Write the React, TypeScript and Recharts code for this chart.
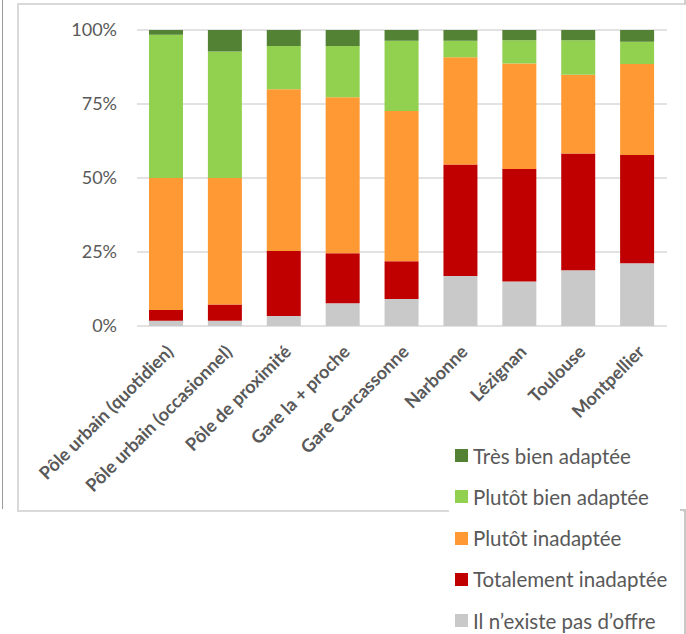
import React from 'react';
import { BarChart, Bar, XAxis, YAxis, CartesianGrid } from 'recharts';

const categories = [
  'Pôle urbain (quotidien)',
  'Pôle urbain (occasionnel)',
  'Pôle de proximité',
  'Gare la + proche',
  'Gare Carcassonne',
  'Narbonne',
  'Lézignan',
  'Toulouse',
  'Montpellier',
];

// shares in %, one value per category
const pasOffre = [1.8, 1.8, 3.4, 7.7, 9.1, 16.9, 15.0, 18.8, 21.2];
const totalementInadaptee = [3.6, 5.5, 21.9, 16.9, 12.8, 37.7, 38.0, 39.5, 36.6];
const plutotInadaptee = [44.6, 42.7, 54.7, 52.7, 50.7, 36.2, 35.7, 26.6, 30.7];
const plutotBienAdaptee = [48.4, 42.7, 14.6, 17.3, 23.8, 5.6, 7.8, 11.6, 7.5];
const tresBienAdaptee = [1.6, 7.3, 5.4, 5.4, 3.6, 3.6, 3.5, 3.5, 4.0];

const yTicks = [0, 0.25, 0.5, 0.75, 1];

// stacked bottom to top
const series = [
  { key: 'pasOffre', name: 'Il n’existe pas d’offre', color: '#C9C9C9', values: pasOffre },
  { key: 'totalement', name: 'Totalement inadaptée', color: '#C00000', values: totalementInadaptee },
  { key: 'plutotInad', name: 'Plutôt inadaptée', color: '#FF9933', values: plutotInadaptee },
  { key: 'plutotBien', name: 'Plutôt bien adaptée', color: '#92D050', values: plutotBienAdaptee },
  { key: 'tresBien', name: 'Très bien adaptée', color: '#548235', values: tresBienAdaptee },
];

const data = categories.map((name, i) => {
  const row: Record<string, string | number> = { name };
  series.forEach(s => { row[s.key] = s.values[i]; });
  return row;
});

const FONT = 'Lato, "Liberation Sans", sans-serif';
const TEXT = '#595959';

const CategoryTick = ({ x, y, payload }: any) => (
  <g transform={`translate(${x + 8},${y + 27})`}>
    <text
      textAnchor="end"
      transform="rotate(-45)"
      fill={TEXT}
      fontSize={18}
      fontWeight="bold"
      fontFamily={FONT}
    >
      {payload.value}
    </text>
  </g>
);

const App: React.FC = () => (
  <div style={{ position: 'absolute', left: 0, top: 0, width: 686, height: 634, background: '#fff', fontFamily: FONT }}>
    {/* outer frame lines */}
    <div style={{ position: 'absolute', left: 2, top: 0, width: 1, height: 509, background: '#9a9a9a' }} />
    <div
      style={{
        position: 'absolute', left: 17, top: 3, width: 666, height: 505,
        borderTop: '2px solid #d9d9d9', borderLeft: '2px solid #d9d9d9', borderBottom: '2px solid #d9d9d9',
      }}
    />
    <div style={{ position: 'absolute', left: 684, top: 0, width: 2, height: 5, background: '#d0d0d0' }} />

    <div style={{ position: 'absolute', left: 0, top: 0 }}>
      <BarChart
        width={686}
        height={634}
        data={data}
        stackOffset="expand"
        margin={{ top: 30, right: 19, bottom: 0, left: 0 }}
      >
        <CartesianGrid vertical={false} stroke="#d9d9d9" strokeWidth={1.5} />
        <XAxis
          dataKey="name"
          interval={0}
          height={308}
          axisLine={false}
          tickLine={false}
          tickSize={0}
          tickMargin={0}
          tick={<CategoryTick />}
        />
        <YAxis
          width={137}
          domain={[0, 1]}
          ticks={yTicks}
          tickFormatter={(v: number) => `${Math.round(v * 100)}%`}
          axisLine={false}
          tickLine={false}
          tickMargin={14}
          tick={{ fill: TEXT, fontSize: 18, fontFamily: FONT }}
        />
        {series.map(s => (
          <Bar key={s.key} dataKey={s.key} name={s.name} stackId="a" fill={s.color} barSize={34} isAnimationActive={false} />
        ))}
      </BarChart>
    </div>

    {/* legend box, top entry is the top of the stack */}
    <div style={{ position: 'absolute', left: 449, top: 435, width: 234, height: 199, background: '#fff' }}>
      {[...series].reverse().map(s => (
        <div key={s.key} style={{ height: 41.25, display: 'flex', alignItems: 'center' }}>
          <span style={{ width: 13, height: 13, background: s.color, marginLeft: 6, marginRight: 5, flex: 'none' }} />
          <span style={{ fontSize: 20.5, color: TEXT, whiteSpace: 'nowrap' }}>{s.name}</span>
        </div>
      ))}
    </div>
    <div style={{ position: 'absolute', left: 684, top: 509, width: 2, height: 125, background: '#c8c8c8' }} />
    <div style={{ position: 'absolute', left: 680, top: 509, width: 5, height: 2, background: '#c8c8c8' }} />
  </div>
);

export default App;
